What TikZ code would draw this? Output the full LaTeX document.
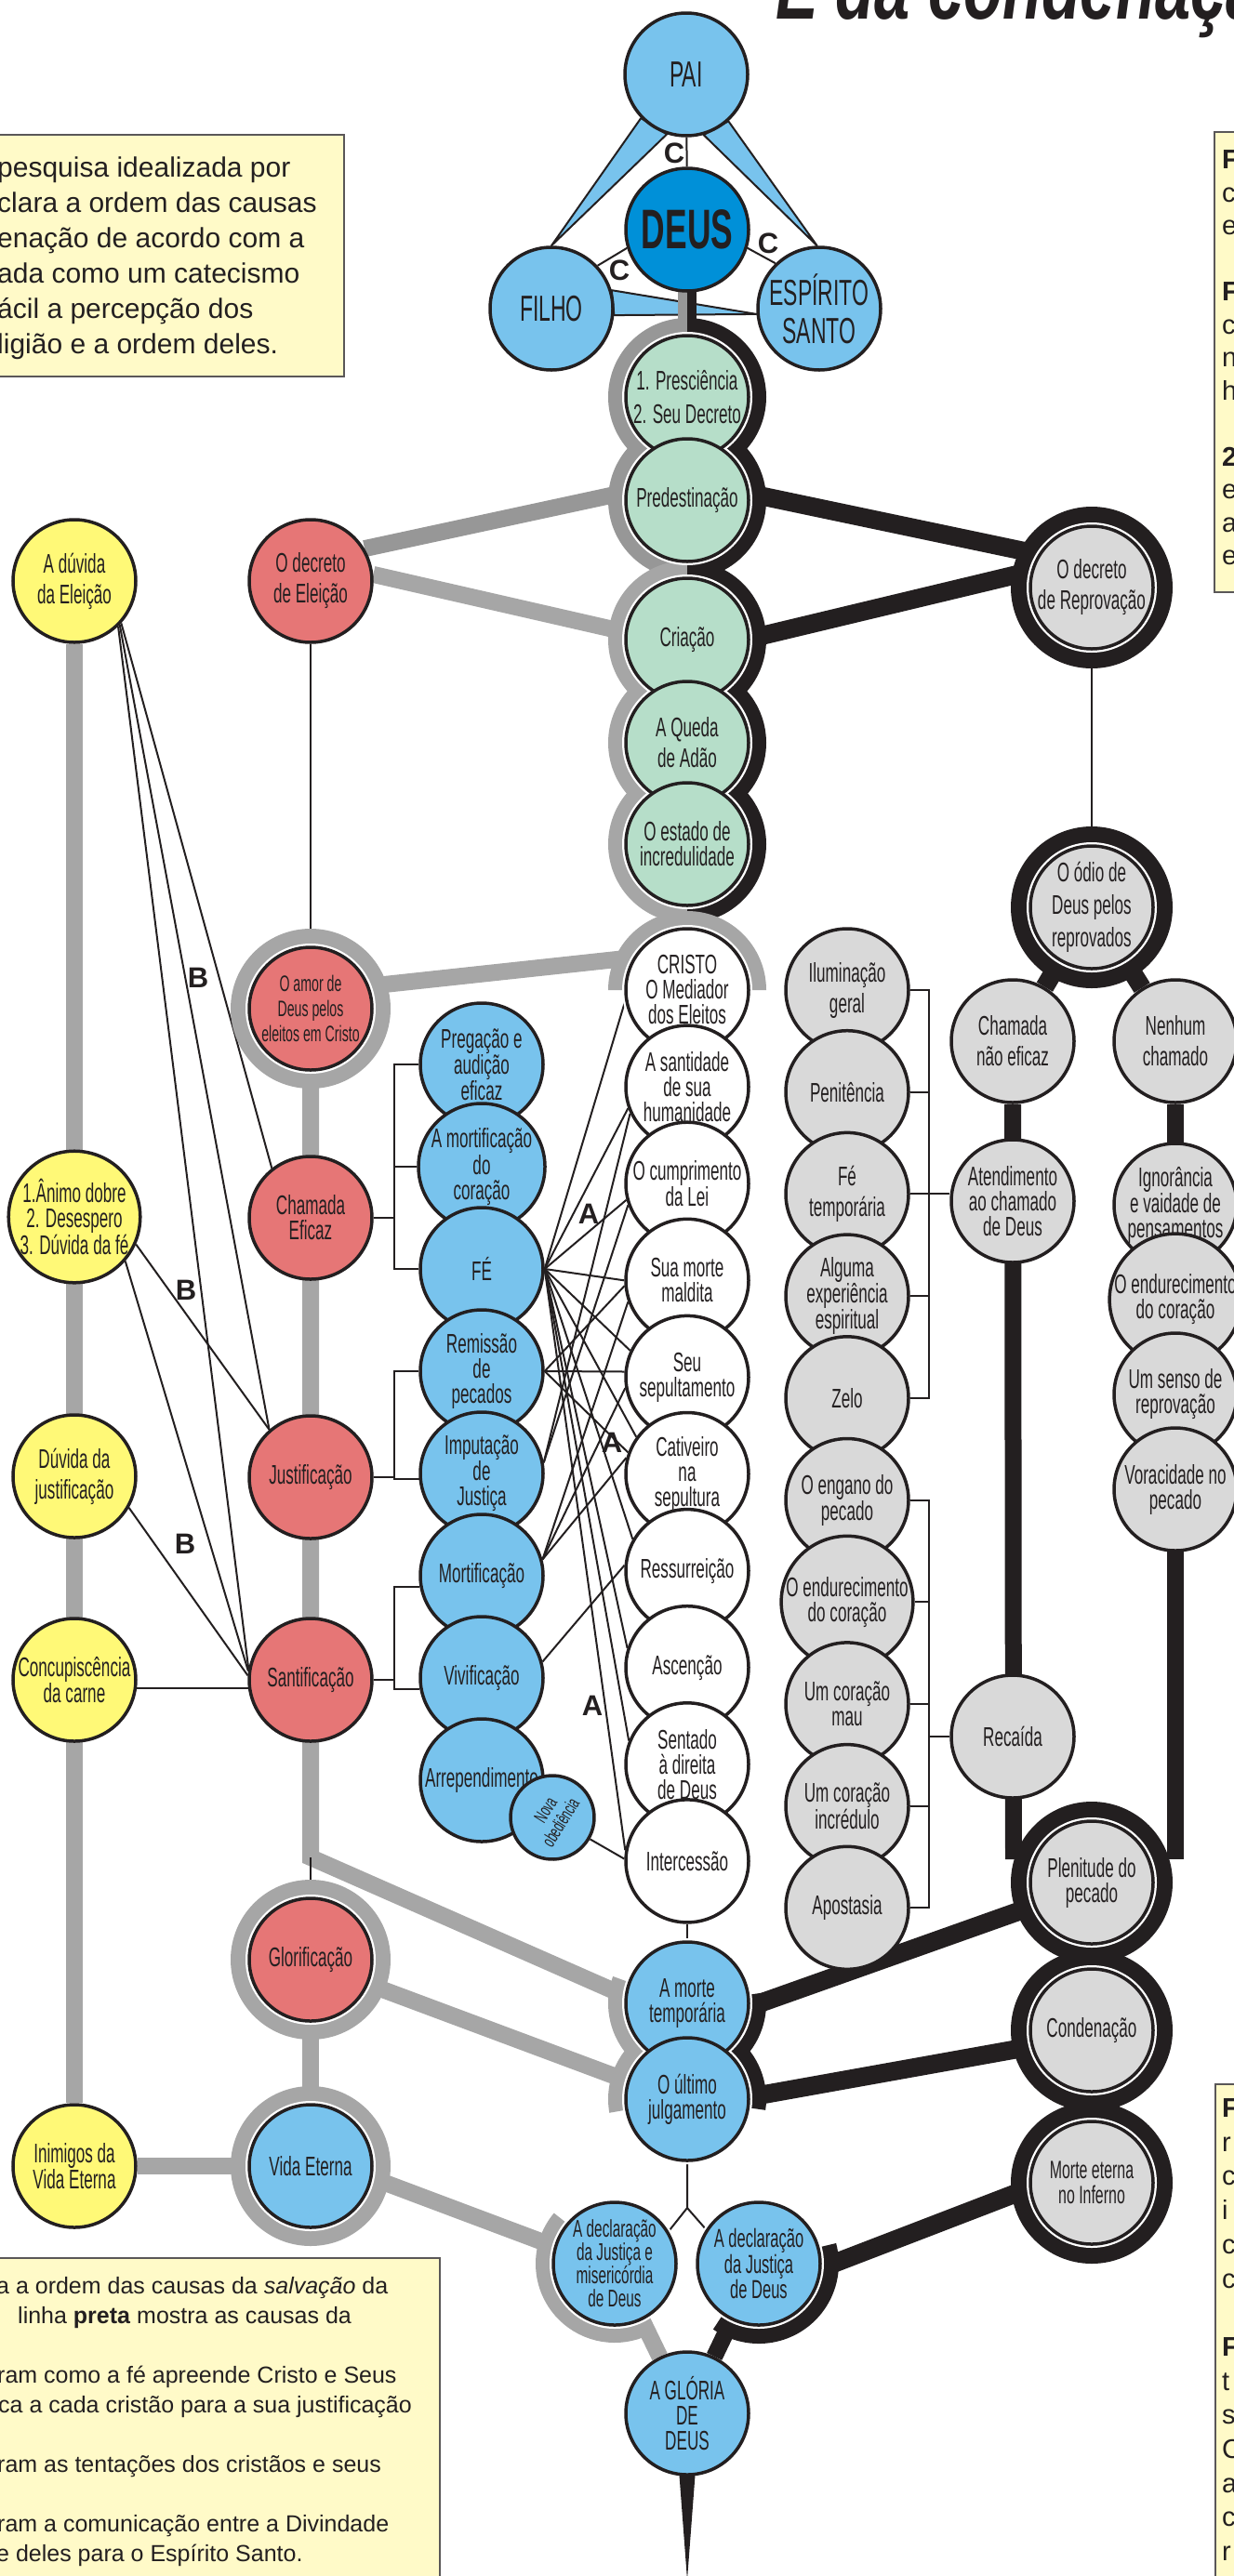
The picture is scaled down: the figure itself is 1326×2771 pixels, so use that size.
\documentclass[tikz,border=0pt]{standalone}
\usepackage{fontspec}
\setmainfont{Liberation Sans}
\newfontfamily\estreita{Liberation Sans}[FakeStretch=0.59]
\newfontfamily\titulofonte{Liberation Sans}[FakeStretch=0.7]
\usetikzlibrary{positioning,backgrounds,calc}

\definecolor{azul}{HTML}{78C3ED}
\definecolor{azulforte}{HTML}{0090D8}
\definecolor{verde}{HTML}{B6DEC9}
\definecolor{vermelho}{HTML}{E67676}
\definecolor{amarelo}{HTML}{FFF977}
\definecolor{cinza}{HTML}{D9D9D9}
\definecolor{trilho}{HTML}{A6A6A6}
\definecolor{trilhoescuro}{HTML}{979797}
\definecolor{preto}{HTML}{231F20}
\definecolor{papel}{HTML}{FFFAC8}

\newcommand\fonteno{\estreita\fontsize{29}{27}\selectfont}
\newcommand\fontelarga{\estreita\fontsize{29}{33}\selectfont}
\newcommand\fontemenor{\estreita\fontsize{25}{26}\selectfont}
\newcommand\fontetrin{\estreita\fontsize{39}{41}\selectfont}

\tikzset{
  elo/.style={circle, draw=preto, line width=3.5pt, minimum size=132pt, inner sep=0pt,
              align=center, text=preto, font=\fonteno},
  amar/.style={elo, fill=amarelo},
  verm/.style={elo, fill=vermelho},
  azu/.style={elo, fill=azul},
  verd/.style={elo, fill=verde},
  branc/.style={elo, fill=white},
  cinz/.style={elo, fill=cinza},
  largo/.style={font=\fontelarga},
  menor/.style={font=\fontemenor},
  pessoa/.style={azu, font=\fontetrin},
  salva/.style={draw=trilho, line width=18pt},
  perde/.style={draw=preto, line width=20pt},
  fio/.style={draw=preto, line width=2pt},
  letra/.style={font=\bfseries\fontsize{31}{31}\selectfont, text=preto, inner sep=0pt},
  caixa/.style={fill=papel, draw=preto!75, line width=1.5pt},
  caixatxt/.style={anchor=base west, inner sep=0pt, text=preto},
  cunha/.style={fill=azul, draw=preto, line width=2pt, line join=round}
}

\begin{document}
\begin{tikzpicture}[x=1pt, y=-1pt]
\useasboundingbox (0,0) rectangle (1326,2771);

% caixas de texto
\draw[caixa] (-20,145) rectangle (370,405);
\foreach \yy/\tx [count=\i] in {190/pesquisa idealizada por, 228/clara a ordem das causas,
    266/enação de acordo com a, 304/ada como um catecismo, 342/ácil a percepção dos,
    380/ligião e a ordem deles.}
  \node[caixatxt, font=\fontsize{30}{38}\selectfont] (topo\i) at (-3,\yy) {\tx};

\draw[caixa] (-20,2429) rectangle (473,2800);
\foreach \yy/\xx/\tx [count=\i] in {2467/-4/{a a ordem das causas da \textit{salvação} da},
    2499/19/{linha \textbf{preta} mostra as causas da},
    2563/-3/{ram como a fé apreende Cristo e Seus},
    2595/-2/{ca a cada cristão para a sua justificação},
    2659/-3/{ram as tentações dos cristãos e seus},
    2723/-3/{ram a comunicação entre a Divindade},
    2755/-4/{e deles para o Espírito Santo.}}
  \node[caixatxt, font=\fontsize{25}{32}\selectfont] (base\i) at (\xx,\yy) {\tx};

\draw[caixa] (1306,142) rectangle (1360,637);
\foreach \yy/\tx [count=\i] in {181/\textbf{F}, 217/c, 252/e, 323/\textbf{F}, 359/c, 394/n,
    430/h, 501/\textbf{2}, 536/e, 572/a, 607/e}
  \node[caixatxt, font=\fontsize{29}{35}\selectfont] (dir\i) at (1314,\yy) {\tx};

\draw[caixa] (1307,2242) rectangle (1360,2800);
\foreach \yy/\tx [count=\i] in {2277/\textbf{F}, 2314/r, 2350/c, 2387/i, 2424/c, 2461/c,
    2534/\textbf{F}, 2571/t, 2607/s, 2644/C, 2681/a, 2717/c, 2754/r}
  \node[caixatxt, font=\fontsize{29}{35}\selectfont] (dirb\i) at (1314,\yy) {\tx};

\node[anchor=base west, inner sep=0pt, text=preto,
      font=\titulofonte\bfseries\itshape\fontsize{98}{98}\selectfont] (titulo) at (834,20) {E da condenação};

% Trindade
\node[elo, fill=azulforte, font=\estreita\bfseries\fontsize{60}{60}\selectfont] (deus) at (739,247) {DEUS};
\node[pessoa] (pai) at (738,80) {PAI};
\node[pessoa] (filho) at (593,332) {FILHO};
\node[pessoa] (esp) at (881,332) {ESPÍRITO\\SANTO};
\node[letra] (c1) at (725,165) {C};
\node[letra] (c2) at (666,291) {C};
\node[letra] (c3) at (826,262) {C};

% coluna central
\begin{scope}[node distance=111pt]
\node[verd, largo] (presc) at (739,427) {1. Presciência\\[3pt]2. Seu Decreto};
\node[verd] (pred) [below of=presc] {Predestinação};
\node[verd] (criacao) at (739,688) {Criação};
\node[verd, largo] (queda) [below of=criacao] {A Queda\\de Adão};
\node[verd] (estado) [below of=queda, node distance=109pt] {O estado de\\incredulidade};
\end{scope}

% duvidas
\node[amar, largo] (duvElei) at (80,625) {A dúvida\\da Eleição};
\node[amar] (animo) at (80,1309) {1.Ânimo dobre\\2. Desespero\\3. Dúvida da fé};
\node[amar, largo] (duvJust) at (80,1588) {Dúvida da\\justificação};
\node[amar] (concup) at (80,1807) {Concupiscência\\da carne};
\node[amar] (inim) at (80,2330) {Inimigos da\\Vida Eterna};

% causas da salvacao
\node[verm, largo] (eleicao) at (334,625) {O decreto\\de Eleição};
\node[verm, font=\estreita\fontsize{24}{27}\selectfont] (amor) at (334,1085) {O amor de\\Deus pelos\\eleitos em Cristo};
\node[verm] (chamada) at (334,1310) {Chamada\\Eficaz};
\node[verm] (justif) at (334,1589) {Justificação};
\node[verm] (santif) at (334,1807) {Santificação};
\node[verm] (glor) at (334,2108) {Glorificação};
\node[azu] (vida) at (334,2330) {Vida Eterna};

\begin{scope}[node distance=110pt]
\node[azu] (preg) at (518,1145) {Pregação e\\audição\\eficaz};
\node[azu] (mortc) [below of=preg] {A mortificação\\do\\coração};
\node[azu] (fe) [below of=mortc] {FÉ};
\node[azu] (remis) [below of=fe] {Remissão\\de\\pecados};
\node[azu] (imput) [below of=remis] {Imputação\\de\\Justiça};
\node[azu] (mortif) [below of=imput] {Mortificação};
\node[azu] (vivif) [below of=mortif] {Vivificação};
\node[azu] (arrep) [below of=vivif] {Arrependimento};
\end{scope}
\node[azu, minimum size=90pt, rotate=58, font=\estreita\fontsize{20}{21}\selectfont] (nova) at (594,1955) {\hspace*{6pt}Nova\\obediência};

% Cristo
\begin{scope}[node distance=104.1pt]
\node[branc] (cristo) at (739,1065) {CRISTO\\O Mediador\\dos Eleitos};
\node[branc] (sant) [below of=cristo] {A santidade\\de sua\\humanidade};
\node[branc] (cumpr) [below of=sant] {O cumprimento\\da Lei};
\node[branc] (morte) [below of=cumpr] {Sua morte\\maldita};
\node[branc] (sepul) [below of=morte] {Seu\\sepultamento};
\node[branc] (cativ) [below of=sepul] {Cativeiro\\na\\sepultura};
\node[branc] (ressur) [below of=cativ] {Ressurreição};
\node[branc] (ascen) [below of=ressur] {Ascenção};
\node[branc] (sentado) [below of=ascen] {Sentado\\à direita\\de Deus};
\node[branc] (interc) [below of=sentado] {Intercessão};
\end{scope}

% reprovados
\begin{scope}[node distance=109.7pt]
\node[cinz, largo] (ilum) at (911,1065) {Iluminação\\geral};
\node[cinz] (penit) [below of=ilum] {Penitência};
\node[cinz, largo] (fetemp) [below of=penit] {Fé\\temporária};
\node[cinz] (alguma) [below of=fetemp] {Alguma\\experiência\\espiritual};
\node[cinz] (zelo) [below of=alguma] {Zelo};
\node[cinz] (engano) [below of=zelo] {O engano do\\pecado};
\node[cinz] (endurA) [below of=engano] {O endurecimento\\do coração};
\node[cinz] (mau) [below of=endurA] {Um coração\\mau};
\node[cinz] (incred) [below of=mau] {Um coração\\incrédulo};
\node[cinz] (apost) [below of=incred] {Apostasia};
\end{scope}

\node[cinz, largo] (reprov) at (1174,632) {O decreto\\de Reprovação};
\node[cinz, font=\estreita\fontsize{29}{35}\selectfont] (odio) at (1174,976) {O ódio de\\Deus pelos\\reprovados};
\node[cinz, largo] (chnef) at (1089,1120) {Chamada\\não eficaz};
\node[cinz, largo] (nenhum) at (1264,1120) {Nenhum\\chamado};
\node[cinz] (atend) at (1089,1292) {Atendimento\\ao chamado\\de Deus};
\begin{scope}[node distance=102pt]
\node[cinz] (ignor) at (1264,1296) {Ignorância\\e vaidade de\\pensamentos};
\node[cinz] (endurB) [below of=ignor] {O endurecimento\\do coração};
\node[cinz] (senso) [below of=endurB] {Um senso de\\reprovação};
\node[cinz] (vorac) [below of=senso] {Voracidade no\\pecado};
\end{scope}
\node[cinz] (recaida) at (1089,1868) {Recaída};
\node[cinz] (plen) at (1174,2025) {Plenitude do\\pecado};
\node[cinz] (conden) at (1174,2184) {Condenação};
\node[cinz, font=\estreita\fontsize{27}{27}\selectfont] (inferno) at (1174,2348) {Morte eterna\\no Inferno};

% fim
\node[azu] (amorte) at (739,2155) {A morte\\temporária};
\node[azu] (ultimo) at (739,2258) {O último\\julgamento};
\node[azu, font=\estreita\fontsize{26}{25}\selectfont] (miseri) at (661,2435) {A declaração\\da Justiça e\\misericórdia\\de Deus};
\node[azu, font=\estreita\fontsize{28}{26}\selectfont] (djust) at (816,2435) {A declaração\\da Justiça\\de Deus};
\node[azu] (gloria) at (739,2596) {A GLÓRIA\\DE\\DEUS};

% letras
\node[letra] (b1) at (213,1052) {B};
\node[letra] (b2) at (200,1388) {B};
\node[letra] (b3) at (199,1661) {B};
\node[letra] (a1) at (633,1306) {A};
\node[letra] (a2) at (658,1552) {A};
\node[letra] (a3) at (637,1835) {A};

\begin{scope}[on background layer]
  % Trindade
  \path[cunha] (pai.224) -- (pai.252) -- (filho.90) -- cycle;
  \path[cunha] (pai.-48) -- (pai.-74) -- (esp.92) -- cycle;
  \path[cunha] (filho.17) -- (filho.-6) -- (esp.185) -- cycle;
  \draw[fio] (pai) -- (deus);
  \draw[fio] (deus.197) -- (filho.43);
  \draw[fio] (deus.-17) -- (esp.134);
  \fill[trilhoescuro] ($(deus.center)+(-10pt,0)$) rectangle (presc.center);
  \fill[preto] (deus.center) rectangle ($(presc.center)+(10pt,0)$);

  % linha cinzenta
  \coordinate (curva) at (334,1998);
  \draw[salva] (duvElei) -- (inim);
  \draw[salva] (inim) -- (vida);
  \draw[salva, draw=trilhoescuro] (eleicao.31) -- (pred.173);
  \draw[salva] (eleicao.6) -- (criacao.173);
  \draw[salva] (amor.21) -- (cristo.149);
  \draw[salva] (amor) -- (curva) -- (amorte.173);
  \draw[salva] (glor) -- (vida);
  \draw[salva] (glor.-23) -- (ultimo.163);
  \draw[salva] (vida.-11) -- (miseri.164);
  \draw[salva] (miseri) -- (gloria);

  % linha preta
  \coordinate (plenE) at (1090,2000);
  \coordinate (plenD) at (1264,2000);
  \coordinate (ponta) at (739,2775);
  \draw[perde] (pred.6) -- (reprov.148);
  \draw[perde] (criacao.1) -- (reprov.165);
  \draw[perde] (odio) -- (chnef);
  \draw[perde] (odio) -- (nenhum);
  \draw[perde, line width=18pt] (chnef) -- (plenE);
  \draw[perde, line width=18pt] (nenhum) -- (plenD);
  \draw[perde] (amorte.-3) -- (plen.202);
  \draw[perde] (ultimo.2) -- (conden.195);
  \draw[perde] (djust.-4) -- (inferno.185);
  \draw[perde, line width=18pt] (djust) -- (gloria);
  \fill[preto] ($(gloria.center)+(-9pt,-60pt)$) -- ($(gloria.center)+(9pt,-60pt)$) -- (ponta) -- cycle;

  % fios
  \coordinate (forq) at (739,2375);
  \coordinate (chave) at (424,0);
  \coordinate (chaveB) at (999,0);
  \draw[fio] (eleicao) -- (amor);
  \draw[fio] (reprov) -- (odio);
  \draw[fio] (interc) -- (amorte);
  \draw[fio] (curva) -- (glor);
  \draw[fio] (ultimo) -- (forq) -- (miseri.31);
  \draw[fio] (forq) -- (djust.147);

  \draw[fio] (duvElei.-42) -- (chamada.128);
  \draw[fio] (duvElei.-44) -- (justif.131);
  \draw[fio] (duvElei.-46) -- (santif.170);
  \draw[fio] (animo.-24) -- (justif.131);
  \draw[fio] (animo.-41) -- (santif.172);
  \draw[fio] (duvJust.-30) -- (santif.176);
  \draw[fio] (concup.-8) -- (santif.188);

  \draw[fio] (preg.west) -| (chave |- fe.west) -- (fe.west);
  \draw[fio] (mortc.west) -- (mortc.west -| chave);
  \draw[fio] (chamada.east) -- (chamada.east -| chave);
  \draw[fio] (remis.west) -| (chave |- imput.185) -- (imput.185);
  \draw[fio] (justif.east) -- (justif.east -| chave);
  \draw[fio] (mortif.190) -| (chave |- vivif.190) -- (vivif.190);
  \draw[fio] (santif.east) -- (santif.east -| chave);

  \draw[fio] (ilum.east) -| (chaveB |- zelo.east) -- (zelo.east);
  \foreach \n in {penit, alguma} \draw[fio] (\n.east) -- (\n.east -| chaveB);
  \draw[fio] (fetemp.east) -- (fetemp.east -| atend.west);
  \draw[fio] (engano.east) -| (chaveB |- apost.east) -- (apost.east);
  \foreach \n in {endurA, mau, incred} \draw[fio] (\n.east) -- (\n.east -| chaveB);
  \draw[fio] (recaida.west) -- (recaida.west -| chaveB);

  \foreach \d in {cristo.190, sant.200, cumpr.195, morte.180, sepul.155, cativ.144,
                  ressur.150, ascen.162, sentado.158, interc.170}
    \draw[fio] (fe.east) -- (\d);
  \foreach \d in {morte.185, sepul.175, cativ.160} \draw[fio] (remis.east) -- (\d);
  \foreach \d in {sant.205, cumpr.200} \draw[fio] (imput.10) -- (\d);
  \foreach \d in {morte.200, sepul.190, cativ.165} \draw[fio] (mortif.15) -- (\d);
  \draw[fio] (vivif.15) -- (ressur.175);
  \draw[fio] (nova) -- (interc.178);

  % aneis
  \foreach \n/\cor in {presc/trilhoescuro,pred/trilhoescuro,criacao/trilho,queda/trilho,estado/trilho}{
    \fill[\cor] (\n.center) -- ++(90:85pt) arc[start angle=90, end angle=270, radius=85pt] -- cycle;
    \fill[preto] (\n.center) -- ++(-90:85pt) arc[start angle=-90, end angle=90, radius=85pt] -- cycle;
  }
  \fill[trilho] (cristo.center) -- ++(0:85pt) arc[start angle=0, end angle=180, radius=85pt] -- cycle;
  \fill[trilho] (amorte.center) -- ++(160:85pt) arc[start angle=160, end angle=270, radius=85pt] -- cycle;
  \fill[preto] (amorte.center) -- ++(-90:85pt) arc[start angle=-90, end angle=8, radius=85pt] -- cycle;
  \fill[trilho] (ultimo.center) -- ++(90:85pt) arc[start angle=90, end angle=190, radius=85pt] -- cycle;
  \fill[preto] (ultimo.center) -- ++(-8:85pt) arc[start angle=-8, end angle=90, radius=85pt] -- cycle;
  \draw[salva] (miseri.center) ++(140:76pt) arc[start angle=140, end angle=300, radius=76pt];
  \draw[perde, line width=18pt] (djust.center) ++(-125:77pt) arc[start angle=-125, end angle=15, radius=77pt];
  \foreach \n in {amor,glor,vida} \fill[trilho] (\n.center) circle[radius=86pt];
  \foreach \n in {reprov,odio,plen,conden,inferno} \fill[preto] (\n.center) circle[radius=87pt];
  \foreach \n in {presc,pred,criacao,queda,estado,cristo,amor,glor,vida,reprov,odio,
                  plen,conden,inferno,amorte,ultimo,miseri,djust}
    \fill[white] (\n.center) circle[radius=70pt];
\end{scope}
\end{tikzpicture}
\end{document}
